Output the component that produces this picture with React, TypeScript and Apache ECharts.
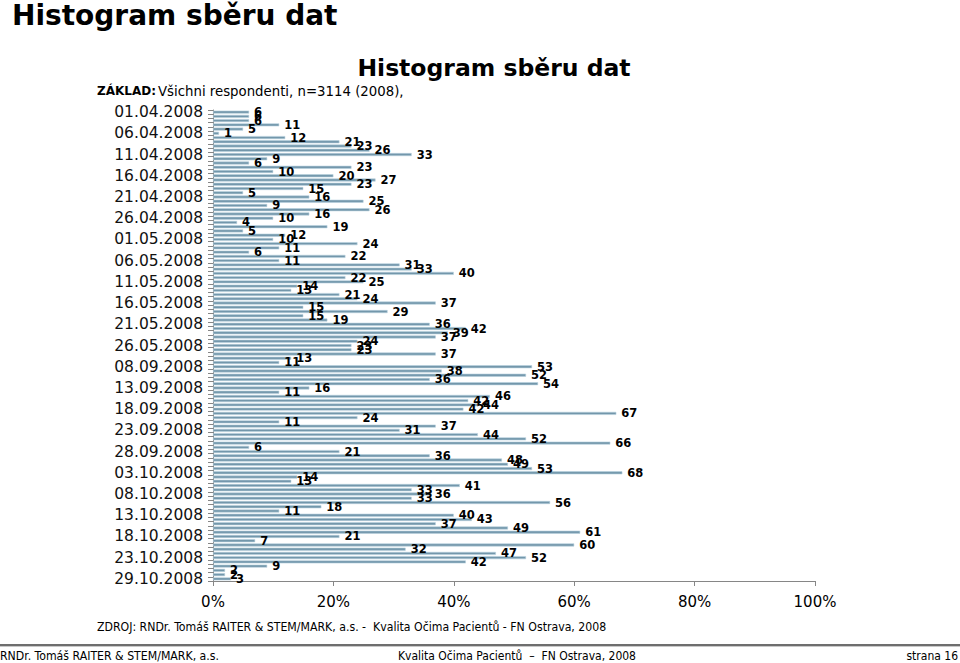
import React, { useEffect, useRef } from "react";
import * as echarts from "echarts";

// Collection days (only every 5th one is labelled on the axis)
const categories = [
  "01.04.2008", "02.04.2008", "03.04.2008", "04.04.2008", "05.04.2008",
  "06.04.2008", "07.04.2008", "08.04.2008", "09.04.2008", "10.04.2008",
  "11.04.2008", "12.04.2008", "13.04.2008", "14.04.2008", "15.04.2008",
  "16.04.2008", "17.04.2008", "18.04.2008", "19.04.2008", "20.04.2008",
  "21.04.2008", "22.04.2008", "23.04.2008", "24.04.2008", "25.04.2008",
  "26.04.2008", "27.04.2008", "28.04.2008", "29.04.2008", "30.04.2008",
  "01.05.2008", "02.05.2008", "03.05.2008", "04.05.2008", "05.05.2008",
  "06.05.2008", "07.05.2008", "08.05.2008", "09.05.2008", "10.05.2008",
  "11.05.2008", "12.05.2008", "13.05.2008", "14.05.2008", "15.05.2008",
  "16.05.2008", "17.05.2008", "18.05.2008", "19.05.2008", "20.05.2008",
  "21.05.2008", "22.05.2008", "23.05.2008", "24.05.2008", "25.05.2008",
  "26.05.2008", "27.05.2008", "28.05.2008", "29.05.2008", "30.05.2008",
  "08.09.2008", "09.09.2008", "10.09.2008", "11.09.2008", "12.09.2008",
  "13.09.2008", "14.09.2008", "15.09.2008", "16.09.2008", "17.09.2008",
  "18.09.2008", "19.09.2008", "20.09.2008", "21.09.2008", "22.09.2008",
  "23.09.2008", "24.09.2008", "25.09.2008", "26.09.2008", "27.09.2008",
  "28.09.2008", "29.09.2008", "30.09.2008", "01.10.2008", "02.10.2008",
  "03.10.2008", "04.10.2008", "05.10.2008", "06.10.2008", "07.10.2008",
  "08.10.2008", "09.10.2008", "10.10.2008", "11.10.2008", "12.10.2008",
  "13.10.2008", "14.10.2008", "15.10.2008", "16.10.2008", "17.10.2008",
  "18.10.2008", "19.10.2008", "20.10.2008", "21.10.2008", "22.10.2008",
  "23.10.2008", "24.10.2008", "25.10.2008", "26.10.2008", "27.10.2008",
  "29.10.2008",
];

// Number of respondents per day
const responses = [
  6, 6, 6, 11, 5, 1, 12, 21, 23, 26,
  33, 9, 6, 23, 10, 20, 27, 23, 15, 5,
  16, 25, 9, 26, 16, 10, 4, 19, 5, 12,
  10, 24, 11, 6, 22, 11, 31, 33, 40, 22,
  25, 14, 13, 21, 24, 37, 15, 29, 15, 19,
  36, 42, 39, 37, 24, 23, 23, 37, 13, 11,
  53, 38, 52, 36, 54, 16, 11, 46, 42.4, 44,
  41.6, 67, 24, 11, 37, 31, 44, 52, 66, 6,
  21, 36, 48, 49, 53, 68, 14, 13, 41, 33,
  36, 33, 56, 18, 11, 40, 43, 37, 49, 61,
  21, 7, 60, 32, 47, 52, 42, 9, 2, 2,
  3,
];

// x-axis tick values (shown as percent)
const percentTicks = [0, 20, 40, 60, 80, 100];

const FONT = "DejaVu Sans";
const COND = "DejaVu Sans Condensed, DejaVu Sans";

export default function App() {
  const ref = useRef<HTMLDivElement>(null);

  useEffect(() => {
    if (!ref.current) return;
    const chart = echarts.init(ref.current, null, { renderer: "svg" });
    const option = {
      animation: false,
      backgroundColor: "#ffffff",
      grid: { left: 213, right: 145, top: 110, bottom: 82, containLabel: false },
      xAxis: {
        type: "value",
        min: percentTicks[0],
        max: percentTicks[percentTicks.length - 1],
        interval: percentTicks[1] - percentTicks[0],
        axisLine: { show: true, lineStyle: { color: "#868686", width: 1 } },
        axisTick: { show: true, length: 5, lineStyle: { color: "#868686" } },
        splitLine: { show: false },
        axisLabel: {
          formatter: "{value}%",
          fontFamily: FONT,
          fontSize: 15,
          color: "#000",
          margin: 13,
        },
      },
      yAxis: {
        type: "category",
        inverse: true,
        data: categories,
        axisLine: { show: true, lineStyle: { color: "#868686", width: 1 } },
        axisTick: { show: true, interval: 0, length: 5, lineStyle: { color: "#868686" } },
        axisLabel: {
          interval: 4,
          fontFamily: FONT,
          fontSize: 15.5,
          color: "#111",
          margin: 10,
        },
      },
      series: [
        {
          type: "bar",
          data: responses,
          barWidth: 3,
          itemStyle: { color: "#7397ab", borderColor: "#b8d2df", borderWidth: 0.6 },
          label: {
            show: true,
            position: "right",
            distance: 5,
            formatter: (p: any) => String(Math.round(p.value)),
            fontFamily: FONT,
            fontWeight: "bold",
            fontSize: 11.5,
            color: "#000",
          },
        },
      ],
      graphic: [
        {
          type: "text",
          x: 12,
          y: 15,
          style: {
            text: "Histogram sběru dat",
            fontFamily: FONT,
            fontWeight: "bold",
            fontSize: 28,
            fill: "#000",
            verticalAlign: "middle",
          },
        },
        {
          type: "text",
          x: 494,
          y: 68,
          style: {
            text: "Histogram sběru dat",
            fontFamily: FONT,
            fontWeight: "bold",
            fontSize: 23.5,
            fill: "#000",
            align: "center",
            verticalAlign: "middle",
          },
        },
        {
          type: "text",
          x: 97,
          y: 91,
          style: {
            text: "ZÁKLAD:",
            fontFamily: FONT,
            fontWeight: "bold",
            fontSize: 12,
            fill: "#000",
            verticalAlign: "middle",
          },
        },
        {
          type: "text",
          x: 158,
          y: 91,
          style: {
            text: "Všichni respondenti, n=3114 (2008),",
            fontFamily: FONT,
            fontSize: 13.3,
            fill: "#000",
            verticalAlign: "middle",
          },
        },
        {
          type: "text",
          x: 97,
          y: 627,
          style: {
            text: "ZDROJ: RNDr. Tomáš RAITER & STEM/MARK, a.s. -  Kvalita Očima Pacientů - FN Ostrava, 2008",
            fontFamily: COND,
            fontSize: 12.2,
            fill: "#000",
            verticalAlign: "middle",
          },
        },
        {
          type: "rect",
          shape: { x: 0, y: 644, width: 960, height: 2 },
          style: { fill: "#6e6e6e" },
        },
        {
          type: "rect",
          shape: { x: 0, y: 646, width: 960, height: 1 },
          style: { fill: "#c8c8c8" },
        },
        {
          type: "text",
          x: 0,
          y: 656,
          style: {
            text: "RNDr. Tomáš RAITER & STEM/MARK, a.s.",
            fontFamily: COND,
            fontSize: 12.2,
            fill: "#000",
            verticalAlign: "middle",
          },
        },
        {
          type: "text",
          x: 398,
          y: 656,
          style: {
            text: "Kvalita Očima Pacientů  –  FN Ostrava, 2008",
            fontFamily: COND,
            fontSize: 12,
            fill: "#000",
            verticalAlign: "middle",
          },
        },
        {
          type: "text",
          x: 958,
          y: 656,
          style: {
            text: "strana 16",
            fontFamily: COND,
            fontSize: 12,
            fill: "#000",
            align: "right",
            verticalAlign: "middle",
          },
        },
      ],
    };
    chart.setOption(option as any);
    return () => chart.dispose();
  }, []);

  return (
    <div
      ref={ref}
      style={{ position: "fixed", left: 0, top: 0, width: 960, height: 663, background: "#fff" }}
    />
  );
}
